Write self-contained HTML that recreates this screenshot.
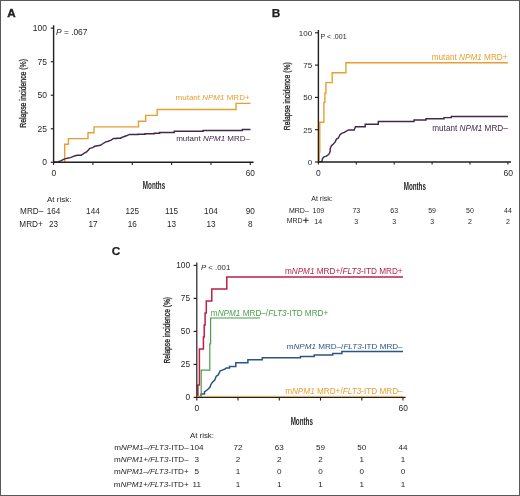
<!DOCTYPE html>
<html><head><meta charset="utf-8"><title>Relapse incidence</title>
<style>
html,body{margin:0;padding:0;background:#fff;}
body{width:520px;height:496px;overflow:hidden;position:relative;}
.frame{position:absolute;left:0;top:0;width:520px;height:496px;box-sizing:border-box;border-style:solid;border-color:#585858;border-width:1px;}
svg{position:absolute;left:0;top:0;will-change:transform;}
text{font-family:"Liberation Sans", sans-serif;}
</style></head>
<body>
<svg width="520" height="496" viewBox="0 0 520 496">
<path d="M64.7,162.0 L64.7,144.3 L68.4,144.3 L68.4,138.6 L88.0,138.5 L88.0,132.7 L94.0,132.7 L94.0,126.9 L138.5,126.9 L138.5,121.2 L145.7,121.2 L145.7,115.4 L157.2,115.4 L157.2,109.5 L236.0,109.5 L236.0,103.4 L250.5,103.4" fill="none" stroke="#e89e30" stroke-width="1.4"/>
<path d="M53.6,162.0 H58.9 V161.5 L61.2,160.7 L63.5,159.4 L65.8,158.6 L68.2,158.0 L70.5,157.6 L72.8,156.6 L75.1,155.8 L77.4,155.3 H81.2 V155.1 L82.8,154.2 L84.3,153.0 L86.6,151.8 L88.2,150.3 L89.8,148.3 L92.8,147.6 L94.7,146.3 L97.6,145.7 L100.5,145.2 L102.4,144.0 L105.3,142.1 L108.2,141.2 L111.1,140.2 L113.5,138.5 H116.8 V138.2 H120.7 V138.0 L123.6,136.7 L126.5,135.8 L129.3,134.4 H138.0 V134.2 H145.0 V133.8 H154.2 V133.2 H159.6 V132.4 H174.2 V131.3 H203.1 V130.5 H242.3 V129.4 H250.5 V129.4" fill="none" stroke="#43284d" stroke-width="1.45"/>
<path d="M318.4,161.6 H321.8 V161.6 L322.7,158.2 L324.0,156.8 L325.8,156.4 L327.5,155.5 L329.3,153.7 L330.2,151.1 L330.2,148.4 L331.5,145.7 L333.3,144.0 L335.1,142.2 L336.4,139.1 L338.2,138.2 L340.0,134.6 L341.7,133.3 L344.4,132.4 L347.1,130.6 L348.8,129.9 H354.2 V129.8 L355.5,126.7 H365.2 V124.3 H378.3 V121.5 H414.0 V120.0 H426.0 V118.8 H444.0 V117.6 H451.3 V116.5 H507.9 V116.5" fill="none" stroke="#43284d" stroke-width="1.45"/>
<path d="M318.4,162 H319.2 V152.1 H319.8 V122.2 H323.9 V102.4 H324.9 V93.2 H325.9 V82.6 H332.2 V72.7 H345.9 V62.8 H507.9" fill="none" stroke="#e89e30" stroke-width="1.4"/>
<path d="M196.8,397.0 H200.6 V397.0 L201.2,393.9 H204.5 V391.9 L207.7,389.5 L210.1,387.0 L210.9,384.6 L212.5,382.2 L214.9,379.8 L216.1,376.5 L218.2,374.9 L220.2,370.9 L222.2,370.1 L224.6,369.3 L226.2,368.1 H229.5 V366.5 H235.8 V362.8 H247.9 V359.8 H262.3 V357.7 H300.4 V356.6 H314.2 V355.0 H332.7 V353.4 H341.9 V351.5 H403.0 V351.5" fill="none" stroke="#2b5584" stroke-width="1.5"/>
<path d="M196.8,397 H201.2 V370.2 H209.8 V343.8 H210.6 V318 H260" fill="none" stroke="#4a9e4c" stroke-width="1.2"/>
<path d="M196.8,397 H197.9 V385.1 H199.4 V349.1 H203.4 V337.1 H204.2 V325.1 H205.1 V313.1 H206.3 V301.1 H211.8 V289.1 H226.8 V277.1 H403" fill="none" stroke="#bc1f48" stroke-width="1.5"/>
<path d="M53.6,25.3 V162.3 H253.6" fill="none" stroke="#231f20" stroke-width="1.4"/>
<path d="M50.8,162.3 H53.6" stroke="#231f20" stroke-width="1.15"/>
<path d="M50.8,128.8 H53.6" stroke="#231f20" stroke-width="1.15"/>
<path d="M50.8,95.2 H53.6" stroke="#231f20" stroke-width="1.15"/>
<path d="M50.8,61.7 H53.6" stroke="#231f20" stroke-width="1.15"/>
<path d="M50.8,28.1 H53.6" stroke="#231f20" stroke-width="1.15"/>
<path d="M53.6,162.3 V164.9" stroke="#231f20" stroke-width="1.1"/>
<path d="M92.9,162.3 V164.9" stroke="#231f20" stroke-width="1.1"/>
<path d="M132.3,162.3 V164.9" stroke="#231f20" stroke-width="1.1"/>
<path d="M171.6,162.3 V164.9" stroke="#231f20" stroke-width="1.1"/>
<path d="M211.0,162.3 V164.9" stroke="#231f20" stroke-width="1.1"/>
<path d="M250.3,162.3 V164.9" stroke="#231f20" stroke-width="1.1"/>
<path d="M318.4,30.0 V162.0 H511.0" fill="none" stroke="#231f20" stroke-width="1.4"/>
<path d="M315.0,162.0 H318.4" stroke="#231f20" stroke-width="1.15"/>
<path d="M315.0,129.7 H318.4" stroke="#231f20" stroke-width="1.15"/>
<path d="M315.0,97.4 H318.4" stroke="#231f20" stroke-width="1.15"/>
<path d="M315.0,65.1 H318.4" stroke="#231f20" stroke-width="1.15"/>
<path d="M315.0,32.8 H318.4" stroke="#231f20" stroke-width="1.15"/>
<path d="M318.4,162.0 V164.6" stroke="#231f20" stroke-width="1.1"/>
<path d="M356.3,162.0 V164.6" stroke="#231f20" stroke-width="1.1"/>
<path d="M394.2,162.0 V164.6" stroke="#231f20" stroke-width="1.1"/>
<path d="M432.1,162.0 V164.6" stroke="#231f20" stroke-width="1.1"/>
<path d="M470.0,162.0 V164.6" stroke="#231f20" stroke-width="1.1"/>
<path d="M507.9,162.0 V164.6" stroke="#231f20" stroke-width="1.1"/>
<path d="M196.8,262.6 V397.4 H405.6" fill="none" stroke="#231f20" stroke-width="1.2"/>
<path d="M193.6,397.4 H196.8" stroke="#231f20" stroke-width="1.15"/>
<path d="M193.6,364.4 H196.8" stroke="#231f20" stroke-width="1.15"/>
<path d="M193.6,331.4 H196.8" stroke="#231f20" stroke-width="1.15"/>
<path d="M193.6,298.4 H196.8" stroke="#231f20" stroke-width="1.15"/>
<path d="M193.6,265.4 H196.8" stroke="#231f20" stroke-width="1.15"/>
<path d="M196.8,397.4 V400.59999999999997" stroke="#231f20" stroke-width="1.1"/>
<path d="M238.0,397.4 V400.59999999999997" stroke="#231f20" stroke-width="1.1"/>
<path d="M279.3,397.4 V400.59999999999997" stroke="#231f20" stroke-width="1.1"/>
<path d="M320.5,397.4 V400.59999999999997" stroke="#231f20" stroke-width="1.1"/>
<path d="M361.8,397.4 V400.59999999999997" stroke="#231f20" stroke-width="1.1"/>
<path d="M403.0,397.4 V400.59999999999997" stroke="#231f20" stroke-width="1.1"/>
<path d="M196.8,396.3 H403" fill="none" stroke="#e89e30" stroke-width="1.0" stroke-opacity="0.75"/>
<text x="7.2" y="16.8" font-size="11.6" fill="#231f20" text-anchor="start" font-weight="bold" stroke="#231f20" stroke-width="0.4">A</text>
<text x="271.8" y="16.9" font-size="11.8" fill="#231f20" text-anchor="start" font-weight="bold" stroke="#231f20" stroke-width="0.25">B</text>
<text x="111.7" y="255.2" font-size="11.8" fill="#231f20" text-anchor="start" font-weight="bold" stroke="#231f20" stroke-width="0.25">C</text>
<text x="47.0" y="165.2" font-size="8.5" fill="#231f20" text-anchor="end" font-weight="normal">0</text>
<text x="47.0" y="131.65" font-size="8.5" fill="#231f20" text-anchor="end" font-weight="normal">25</text>
<text x="47.0" y="98.1" font-size="8.5" fill="#231f20" text-anchor="end" font-weight="normal">50</text>
<text x="47.0" y="64.55" font-size="8.5" fill="#231f20" text-anchor="end" font-weight="normal">75</text>
<text x="47.0" y="31.0" font-size="8.5" fill="#231f20" text-anchor="end" font-weight="normal">100</text>
<text x="53.8" y="175.9" font-size="8.5" fill="#231f20" text-anchor="middle" font-weight="normal">0</text>
<text x="250.3" y="175.5" font-size="8.2" fill="#231f20" text-anchor="middle" font-weight="normal">60</text>
<text x="0" y="0" font-size="10.2" fill="#231f20" text-anchor="middle" font-weight="bold" transform="translate(154,189.0) scale(0.615,1)">Months</text>
<text x="0" y="0" font-size="8.4" fill="#231f20" text-anchor="start" font-weight="normal" transform="translate(25.9,127.8) rotate(-90) scale(0.82,1)" stroke="#231f20" stroke-width="0.3">Relapse incidence (%)</text>
<text x="56" y="35.1" font-size="8.4" fill="#231f20" text-anchor="start" font-weight="normal"><tspan font-style="italic">P</tspan> = .067</text>
<text x="249.6" y="100.0" font-size="8.0" fill="#e89e30" text-anchor="end" font-weight="normal">mutant <tspan font-style="italic">NPM1</tspan> MRD+</text>
<text x="250" y="141.0" font-size="8.0" fill="#43284d" text-anchor="end" font-weight="normal">mutant <tspan font-style="italic">NPM1</tspan> MRD–</text>
<text x="47" y="201.9" font-size="8.0" fill="#231f20" text-anchor="start" font-weight="normal">At risk:</text>
<text x="43.3" y="214.0" font-size="8.2" fill="#231f20" text-anchor="end" font-weight="normal">MRD–</text>
<text x="42.8" y="226.8" font-size="8.2" fill="#231f20" text-anchor="end" font-weight="normal">MRD+</text>
<text x="53.6" y="214.0" font-size="8.2" fill="#231f20" text-anchor="middle" font-weight="normal">164</text>
<text x="92.94" y="214.0" font-size="8.2" fill="#231f20" text-anchor="middle" font-weight="normal">144</text>
<text x="132.28" y="214.0" font-size="8.2" fill="#231f20" text-anchor="middle" font-weight="normal">125</text>
<text x="171.62" y="214.0" font-size="8.2" fill="#231f20" text-anchor="middle" font-weight="normal">115</text>
<text x="210.96" y="214.0" font-size="8.2" fill="#231f20" text-anchor="middle" font-weight="normal">104</text>
<text x="250.3" y="214.0" font-size="8.2" fill="#231f20" text-anchor="middle" font-weight="normal">90</text>
<text x="53.6" y="226.8" font-size="8.2" fill="#231f20" text-anchor="middle" font-weight="normal">23</text>
<text x="92.94" y="226.8" font-size="8.2" fill="#231f20" text-anchor="middle" font-weight="normal">17</text>
<text x="132.28" y="226.8" font-size="8.2" fill="#231f20" text-anchor="middle" font-weight="normal">16</text>
<text x="171.62" y="226.8" font-size="8.2" fill="#231f20" text-anchor="middle" font-weight="normal">13</text>
<text x="210.96" y="226.8" font-size="8.2" fill="#231f20" text-anchor="middle" font-weight="normal">13</text>
<text x="250.3" y="226.8" font-size="8.2" fill="#231f20" text-anchor="middle" font-weight="normal">8</text>
<text x="312.1" y="164.8" font-size="8.0" fill="#231f20" text-anchor="end" font-weight="normal">0</text>
<text x="312.1" y="132.5" font-size="8.0" fill="#231f20" text-anchor="end" font-weight="normal">25</text>
<text x="312.1" y="100.2" font-size="8.0" fill="#231f20" text-anchor="end" font-weight="normal">50</text>
<text x="312.1" y="67.9" font-size="8.0" fill="#231f20" text-anchor="end" font-weight="normal">75</text>
<text x="312.1" y="35.6" font-size="8.0" fill="#231f20" text-anchor="end" font-weight="normal">100</text>
<text x="318.4" y="175.8" font-size="8.5" fill="#231f20" text-anchor="middle" font-weight="normal">0</text>
<text x="508.3" y="175.8" font-size="8.6" fill="#231f20" text-anchor="middle" font-weight="normal">60</text>
<text x="0" y="0" font-size="10.2" fill="#231f20" text-anchor="middle" font-weight="bold" transform="translate(414.8,189.7) scale(0.615,1)">Months</text>
<text x="0" y="0" font-size="8.4" fill="#231f20" text-anchor="start" font-weight="normal" transform="translate(289.6,130.2) rotate(-90) scale(0.81,1)" stroke="#231f20" stroke-width="0.3">Relapse incidence (%)</text>
<text x="320.4" y="39.3" font-size="7.0" fill="#231f20" text-anchor="start" font-weight="normal">P &lt; .001</text>
<text x="507.5" y="59.7" font-size="8.2" fill="#e89e30" text-anchor="end" font-weight="normal">mutant <tspan font-style="italic">NPM1</tspan> MRD+</text>
<text x="507.8" y="131.1" font-size="8.2" fill="#43284d" text-anchor="end" font-weight="normal">mutant <tspan font-style="italic">NPM1</tspan> MRD–</text>
<text x="311.3" y="201.4" font-size="7.0" fill="#231f20" text-anchor="start" font-weight="normal">At risk:</text>
<text x="308.8" y="212.6" font-size="7.0" fill="#231f20" text-anchor="end" font-weight="normal">MRD–</text>
<text x="302.6" y="223.0" font-size="7.0" fill="#231f20" text-anchor="end" font-weight="normal">MRD</text>
<path d="M303.2,220.3 H308.6 M305.9,217.5 V223.1" stroke="#231f20" stroke-width="0.95" fill="none"/>
<text x="318.4" y="212.6" font-size="7.0" fill="#231f20" text-anchor="middle" font-weight="normal">109</text>
<text x="356.3" y="212.6" font-size="7.0" fill="#231f20" text-anchor="middle" font-weight="normal">73</text>
<text x="394.2" y="212.6" font-size="7.0" fill="#231f20" text-anchor="middle" font-weight="normal">63</text>
<text x="432.1" y="212.6" font-size="7.0" fill="#231f20" text-anchor="middle" font-weight="normal">59</text>
<text x="470.0" y="212.6" font-size="7.0" fill="#231f20" text-anchor="middle" font-weight="normal">50</text>
<text x="507.9" y="212.6" font-size="7.0" fill="#231f20" text-anchor="middle" font-weight="normal">44</text>
<text x="318.2" y="223.6" font-size="7.0" fill="#231f20" text-anchor="middle" font-weight="normal">14</text>
<text x="356.3" y="223.6" font-size="7.0" fill="#231f20" text-anchor="middle" font-weight="normal">3</text>
<text x="394.2" y="223.6" font-size="7.0" fill="#231f20" text-anchor="middle" font-weight="normal">3</text>
<text x="432.1" y="223.6" font-size="7.0" fill="#231f20" text-anchor="middle" font-weight="normal">3</text>
<text x="470.0" y="223.6" font-size="7.0" fill="#231f20" text-anchor="middle" font-weight="normal">2</text>
<text x="507.9" y="223.6" font-size="7.0" fill="#231f20" text-anchor="middle" font-weight="normal">2</text>
<text x="190.0" y="400.3" font-size="8.3" fill="#231f20" text-anchor="end" font-weight="normal">0</text>
<text x="190.0" y="367.3" font-size="8.3" fill="#231f20" text-anchor="end" font-weight="normal">25</text>
<text x="190.0" y="334.3" font-size="8.3" fill="#231f20" text-anchor="end" font-weight="normal">50</text>
<text x="190.0" y="301.3" font-size="8.3" fill="#231f20" text-anchor="end" font-weight="normal">75</text>
<text x="190.0" y="268.3" font-size="8.3" fill="#231f20" text-anchor="end" font-weight="normal">100</text>
<text x="196.8" y="410.8" font-size="8.5" fill="#231f20" text-anchor="middle" font-weight="normal">0</text>
<text x="403.2" y="410.8" font-size="8.4" fill="#231f20" text-anchor="middle" font-weight="normal">60</text>
<text x="0" y="0" font-size="10.3" fill="#231f20" text-anchor="middle" font-weight="bold" transform="translate(301.8,425.3) scale(0.61,1)">Months</text>
<text x="0" y="0" font-size="8.3" fill="#231f20" text-anchor="start" font-weight="normal" transform="translate(170.2,363.6) rotate(-90) scale(0.805,1)" stroke="#231f20" stroke-width="0.3">Relapse incidence (%)</text>
<text x="201" y="270.4" font-size="7.8" fill="#231f20" text-anchor="start" font-weight="normal"><tspan font-style="italic">P</tspan> &lt; .001</text>
<text x="402.6" y="273.6" font-size="8.2" fill="#bc1f48" text-anchor="end" font-weight="normal">m<tspan font-style="italic">NPM1</tspan> MRD+/<tspan font-style="italic">FLT3</tspan>-ITD MRD+</text>
<text x="210.8" y="315.5" font-size="8.2" fill="#4a9e4c" text-anchor="start" font-weight="normal">m<tspan font-style="italic">NPM1</tspan> MRD–/<tspan font-style="italic">FLT3</tspan>-ITD MRD+</text>
<text x="402.6" y="349.3" font-size="8.1" fill="#2b5584" text-anchor="end" font-weight="normal">m<tspan font-style="italic">NPM1</tspan> MRD–/<tspan font-style="italic">FLT3</tspan>-ITD MRD–</text>
<text x="402.6" y="394.4" font-size="8.2" fill="#e89e30" text-anchor="end" font-weight="normal">m<tspan font-style="italic">NPM1</tspan> MRD+/<tspan font-style="italic">FLT3</tspan>-ITD MRD–</text>
<text x="214.0" y="437.8" font-size="7.9" fill="#231f20" text-anchor="end" font-weight="normal">At risk:</text>
<text x="188.7" y="450.0" font-size="8.1" fill="#231f20" text-anchor="end" font-weight="normal">m<tspan font-style="italic">NPM1–/FLT3</tspan>-ITD–</text>
<text x="196.8" y="450.0" font-size="8.1" fill="#231f20" text-anchor="middle" font-weight="normal">104</text>
<text x="238.04" y="450.0" font-size="8.1" fill="#231f20" text-anchor="middle" font-weight="normal">72</text>
<text x="279.28" y="450.0" font-size="8.1" fill="#231f20" text-anchor="middle" font-weight="normal">63</text>
<text x="320.52" y="450.0" font-size="8.1" fill="#231f20" text-anchor="middle" font-weight="normal">59</text>
<text x="361.76" y="450.0" font-size="8.1" fill="#231f20" text-anchor="middle" font-weight="normal">50</text>
<text x="403.0" y="450.0" font-size="8.1" fill="#231f20" text-anchor="middle" font-weight="normal">44</text>
<text x="188.7" y="462.1" font-size="8.1" fill="#231f20" text-anchor="end" font-weight="normal">m<tspan font-style="italic">NPM1+/FLT3</tspan>-ITD–</text>
<text x="196.8" y="462.1" font-size="8.1" fill="#231f20" text-anchor="middle" font-weight="normal">3</text>
<text x="238.04" y="462.1" font-size="8.1" fill="#231f20" text-anchor="middle" font-weight="normal">2</text>
<text x="279.28" y="462.1" font-size="8.1" fill="#231f20" text-anchor="middle" font-weight="normal">2</text>
<text x="320.52" y="462.1" font-size="8.1" fill="#231f20" text-anchor="middle" font-weight="normal">2</text>
<text x="361.76" y="462.1" font-size="8.1" fill="#231f20" text-anchor="middle" font-weight="normal">1</text>
<text x="403.0" y="462.1" font-size="8.1" fill="#231f20" text-anchor="middle" font-weight="normal">1</text>
<text x="188.7" y="474.0" font-size="8.1" fill="#231f20" text-anchor="end" font-weight="normal">m<tspan font-style="italic">NPM1–/FLT3</tspan>-ITD+</text>
<text x="196.8" y="474.0" font-size="8.1" fill="#231f20" text-anchor="middle" font-weight="normal">5</text>
<text x="238.04" y="474.0" font-size="8.1" fill="#231f20" text-anchor="middle" font-weight="normal">1</text>
<text x="279.28" y="474.0" font-size="8.1" fill="#231f20" text-anchor="middle" font-weight="normal">0</text>
<text x="320.52" y="474.0" font-size="8.1" fill="#231f20" text-anchor="middle" font-weight="normal">0</text>
<text x="361.76" y="474.0" font-size="8.1" fill="#231f20" text-anchor="middle" font-weight="normal">0</text>
<text x="403.0" y="474.0" font-size="8.1" fill="#231f20" text-anchor="middle" font-weight="normal">0</text>
<text x="188.7" y="486.5" font-size="8.1" fill="#231f20" text-anchor="end" font-weight="normal">m<tspan font-style="italic">NPM1+/FLT3</tspan>-ITD+</text>
<text x="196.8" y="486.5" font-size="8.1" fill="#231f20" text-anchor="middle" font-weight="normal">11</text>
<text x="238.04" y="486.5" font-size="8.1" fill="#231f20" text-anchor="middle" font-weight="normal">1</text>
<text x="279.28" y="486.5" font-size="8.1" fill="#231f20" text-anchor="middle" font-weight="normal">1</text>
<text x="320.52" y="486.5" font-size="8.1" fill="#231f20" text-anchor="middle" font-weight="normal">1</text>
<text x="361.76" y="486.5" font-size="8.1" fill="#231f20" text-anchor="middle" font-weight="normal">1</text>
<text x="403.0" y="486.5" font-size="8.1" fill="#231f20" text-anchor="middle" font-weight="normal">1</text>
</svg>
<div class="frame"></div>
</body></html>
